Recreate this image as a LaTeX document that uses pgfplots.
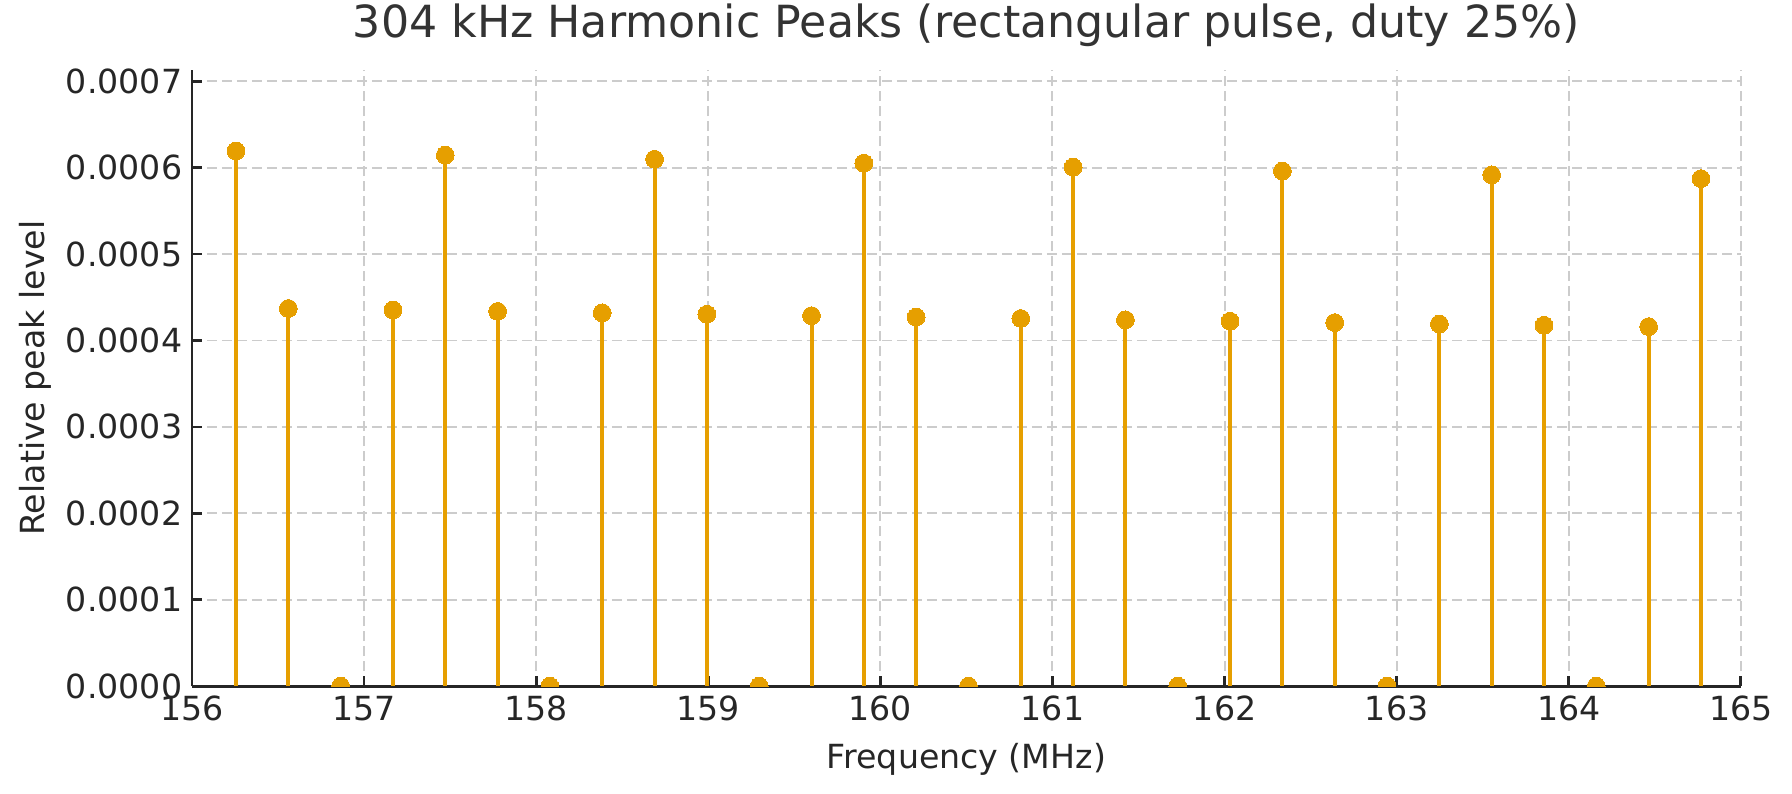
\documentclass[border=0pt]{standalone}
\usepackage{fontspec}
\setmainfont{DejaVu Sans}
\usepackage{pgfplots}
\pgfplotsset{compat=1.18}
\definecolor{stemorange}{HTML}{E69F00}
\definecolor{txt}{HTML}{262626}
\definecolor{ttl}{HTML}{333333}
\definecolor{gridgray}{HTML}{CCCCCC}
\begin{document}
\begin{tikzpicture}
\useasboundingbox (-69.1bp,-38.5bp) rectangle (576bp,247bp);
\begin{axis}[
    at={(0,0)}, anchor=south west,
    scale only axis,
    width=557.6bp, height=221.8bp,
    xmin=156, xmax=165,
    ymin=0, ymax=0.000713,
    xtick={156,157,...,165},
    ytick={0,0.0001,0.0002,0.0003,0.0004,0.0005,0.0006,0.0007},
    scaled y ticks=false,
    yticklabel style={/pgf/number format/.cd, fixed, fixed zerofill, precision=4},
    xticklabel style={/pgf/number format/.cd, fixed, precision=0},
    /pgf/number format/assume math mode=true,
    ticklabel style={font=\fontsize{12}{14}\selectfont, text=txt},
    axis x line*=bottom, axis y line*=left,
    axis line style={txt, line width=1bp, -},
    tick style={txt, line width=1bp},
    tick align=inside,
    major tick length=3.5bp,
    grid=major,
    major grid style={gridgray, line width=0.7bp, dash pattern=on 3.6bp off 1.8bp},
    title={304 kHz Harmonic Peaks (rectangular pulse, duty 25\%)},
    title style={at={(axis description cs:0.5,1)}, anchor=base, yshift=5.8bp,
        font=\fontsize{16}{19}\selectfont, text=ttl},
    xlabel={Frequency (MHz)},
    xlabel style={at={(axis description cs:0.5,0)}, anchor=base, yshift=-29.5bp,
        font=\fontsize{12}{14}\selectfont, text=txt},
    ylabel={Relative peak level},
    ylabel style={at={(axis description cs:-0.1176,0.5)}, anchor=north, rotate=0,
        font=\fontsize{12}{14}\selectfont, text=txt},
    clip marker paths=true,
]
\addplot[ycomb, stemorange, line width=1.44bp,
    mark=*, mark size=3.2bp, mark options={fill=stemorange, draw=stemorange, line width=0pt}]
coordinates {
(156.256,0.00061928) (156.560,0.00043705) (156.864,0) (157.168,0.00043536)
(157.472,0.00061450) (157.776,0.00043368) (158.080,0) (158.384,0.00043202)
(158.688,0.00060979) (158.992,0.00043036) (159.296,0) (159.600,0.00042872)
(159.904,0.00060515) (160.208,0.00042710) (160.512,0) (160.816,0.00042548)
(161.120,0.00060058) (161.424,0.00042388) (161.728,0) (162.032,0.00042229)
(162.336,0.00059609) (162.640,0.00042071) (162.944,0) (163.248,0.00041914)
(163.552,0.00059165) (163.856,0.00041759) (164.160,0) (164.464,0.00041605)
(164.768,0.00058728)
};
\end{axis}
\end{tikzpicture}
\end{document}
